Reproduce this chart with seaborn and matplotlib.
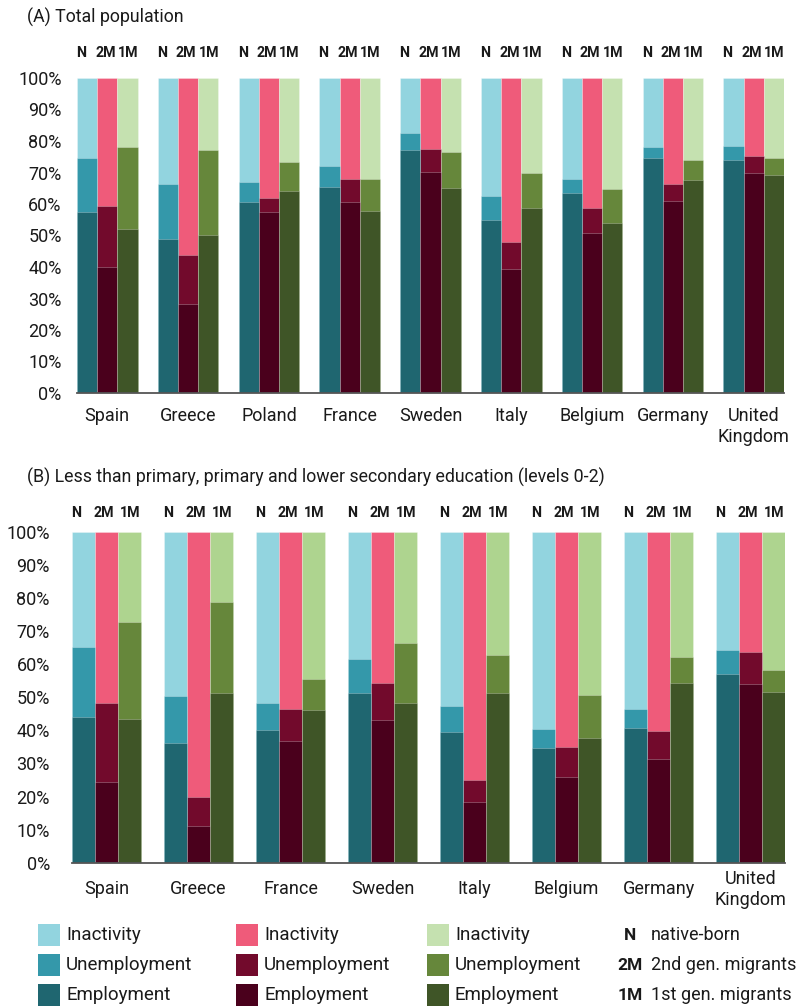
import numpy as np
import pandas as pd
import matplotlib
matplotlib.use('Agg')
import matplotlib.pyplot as plt
from matplotlib.patches import Rectangle
import seaborn as sns

groups = ['N', '2M', '1M']
group_names = ['native-born', '2nd gen. migrants', '1st gen. migrants']

# (A) Total population, values per country as [N, 2M, 1M] in %
countries_a = ['Spain', 'Greece', 'Poland', 'France', 'Sweden', 'Italy',
               'Belgium', 'Germany', 'United\nKingdom']
employment_a = [[57.6, 39.9, 52.0], [48.9, 28.2, 50.2], [60.7, 57.4, 64.2],
                [65.5, 60.5, 57.9], [77.0, 70.2, 65.2], [55.0, 39.3, 58.8],
                [63.4, 50.7, 53.9], [74.7, 60.8, 67.7], [73.9, 69.7, 69.3]]
unemployment_a = [[17.1, 19.6, 26.2], [17.5, 15.5, 26.8], [6.4, 4.6, 9.2],
                  [6.7, 7.4, 9.9], [5.6, 7.4, 11.2], [7.5, 8.7, 11.1],
                  [4.4, 8.1, 11.0], [3.5, 5.4, 6.3], [4.6, 5.6, 5.3]]
inactivity_a = [[25.3, 40.5, 21.8], [33.6, 56.3, 23.0], [32.9, 38.0, 26.6],
                [27.8, 32.1, 32.2], [17.4, 22.4, 23.6], [37.5, 52.0, 30.1],
                [32.2, 41.2, 35.1], [21.8, 33.8, 26.0], [21.5, 24.7, 25.4]]

# (B) Levels 0-2 education
countries_b = ['Spain', 'Greece', 'France', 'Sweden', 'Italy', 'Belgium',
               'Germany', 'United\nKingdom']
employment_b = [[44.0, 24.4, 43.5], [36.3, 11.1, 51.3], [40.2, 36.7, 46.2],
                [51.4, 43.2, 48.3], [39.6, 18.4, 51.3], [34.8, 26.0, 37.7],
                [40.8, 31.5, 54.3], [57.1, 54.1, 51.6]]
unemployment_b = [[21.2, 23.8, 29.4], [14.2, 8.9, 27.5], [8.2, 9.8, 9.4],
                  [10.1, 11.1, 18.0], [7.8, 6.7, 11.6], [5.6, 9.1, 13.0],
                  [5.7, 8.2, 7.8], [7.2, 9.5, 6.6]]
inactivity_b = [[34.8, 51.8, 27.1], [49.5, 80.0, 21.2], [51.6, 53.5, 44.4],
                [38.5, 45.7, 33.7], [52.6, 74.9, 37.1], [59.6, 64.9, 49.3],
                [53.5, 60.3, 37.9], [35.7, 36.4, 41.8]]

colors = {
    'N': {'inactivity': '#92d4df', 'unemployment': '#3498aa', 'employment': '#1f6670'},
    '2M': {'inactivity': '#ef5b7a', 'unemployment': '#720a2c', 'employment': '#4a001c'},
    '1M': {'inactivity': '#c5e1b0', 'unemployment': '#66873b', 'employment': '#3f5527'},
}
light_green_b = '#aed48f'
text_color = '#1a1a1a'


def build_frame(countries, emp, unemp, inact):
    rows = []
    for i, c in enumerate(countries):
        for j, g in enumerate(groups):
            rows.append({'country': c, 'group': g, 'pos': 4 * i + j,
                         'employment': emp[i][j],
                         'unemployment': unemp[i][j],
                         'inactivity': inact[i][j]})
    df = pd.DataFrame(rows)
    df['emp_top'] = df['employment']
    df['unemp_top'] = df['employment'] + df['unemployment']
    df['inact_top'] = df['unemp_top'] + df['inactivity']
    return df


def draw_panel(ax, df, countries, inact_1m, lab_y, ctry_y, ctry_va, ypad):
    layers = [('inactivity', 'inact_top'), ('unemployment', 'unemp_top'),
              ('employment', 'emp_top')]
    for layer, key in layers:
        pal = {g: colors[g][layer] for g in groups}
        if layer == 'inactivity':
            pal['1M'] = inact_1m
        sns.barplot(data=df, x='pos', y=key, hue='group', palette=pal,
                    native_scale=True, dodge=False, width=1, errorbar=None,
                    saturation=1, legend=False, ax=ax,
                    edgecolor=(1, 1, 1, 0.3), linewidth=0.6)

    n = len(countries)
    ax.set_xlim(-0.5, 4 * n - 1.5)
    ax.set_ylim(0, 100)
    ax.set_yticks(np.arange(0, 101, 10))
    ax.set_yticklabels([f'{v}%' for v in range(0, 101, 10)])
    ax.set_xticks([])
    ax.set_xlabel('')
    ax.set_ylabel('')
    sns.despine(ax=ax, left=True)
    ax.spines['bottom'].set_color('#555555')
    ax.spines['bottom'].set_linewidth(1.3)
    ax.tick_params(axis='y', length=0, pad=ypad, labelsize=13,
                   labelcolor=text_color)

    tr = ax.get_xaxis_transform()
    offsets = {'N': -0.3, '2M': -0.1, '1M': 0.02}
    for i, c in enumerate(countries):
        for j, g in enumerate(groups):
            ax.text(4 * i + j + offsets[g], lab_y, g, transform=tr,
                    ha='center', va='center', fontsize=10.3,
                    fontweight='bold', color=text_color)
        ax.text(4 * i + 1, ctry_y, c, transform=tr, ha='center', va=ctry_va,
                fontsize=13, color=text_color, linespacing=1.2)


sns.set_theme(style='white')
plt.rcParams['font.family'] = ['Roboto', 'DejaVu Sans']

fig = plt.figure(figsize=(7.99, 10.08), dpi=100)

ax_a = fig.add_axes([77 / 799, 1 - 393 / 1008, 707 / 799, 315 / 1008])
df_a = build_frame(countries_a, employment_a, unemployment_a, inactivity_a)
draw_panel(ax_a, df_a, countries_a, colors['1M']['inactivity'],
           1.079, -0.045, 'top', 11)

ax_b = fig.add_axes([72 / 799, 1 - 862.7 / 1008, 713 / 799, 330.7 / 1008])
df_b = build_frame(countries_b, employment_b, unemployment_b, inactivity_b)
draw_panel(ax_b, df_b, countries_b, light_green_b,
           1.0575, -0.08, 'center', 16)

fig.text(27 / 799, 1 - 17 / 1008, '(A) Total population', fontsize=12.8,
         va='center', ha='left', color=text_color)
fig.text(27 / 799, 1 - 477 / 1008,
         '(B) Less than primary, primary and lower secondary education (levels 0-2)',
         fontsize=12.8, va='center', ha='left', color=text_color)

# legend
status = ['inactivity', 'unemployment', 'employment']
status_labels = ['Inactivity', 'Unemployment', 'Employment']
row_y = [935, 965, 995]
col_x = [38, 236, 427]
for ci, g in enumerate(groups):
    for ri, s in enumerate(status):
        y = row_y[ri]
        fig.patches.append(Rectangle((col_x[ci] / 799, 1 - (y + 11) / 1008),
                                     22 / 799, 22 / 1008,
                                     transform=fig.transFigure,
                                     facecolor=colors[g][s], edgecolor='none'))
        fig.text((col_x[ci] + 28) / 799, 1 - y / 1008, status_labels[ri],
                 fontsize=13.5, va='center', ha='left', color=text_color)
for ri, g in enumerate(groups):
    y = row_y[ri]
    fig.text(630 / 799, 1 - y / 1008, g, fontsize=12.5, fontweight='bold',
             va='center', ha='center', color=text_color)
    fig.text(651 / 799, 1 - y / 1008, group_names[ri], fontsize=13,
             va='center', ha='left', color=text_color)

fig.savefig('out.png', dpi=100)
